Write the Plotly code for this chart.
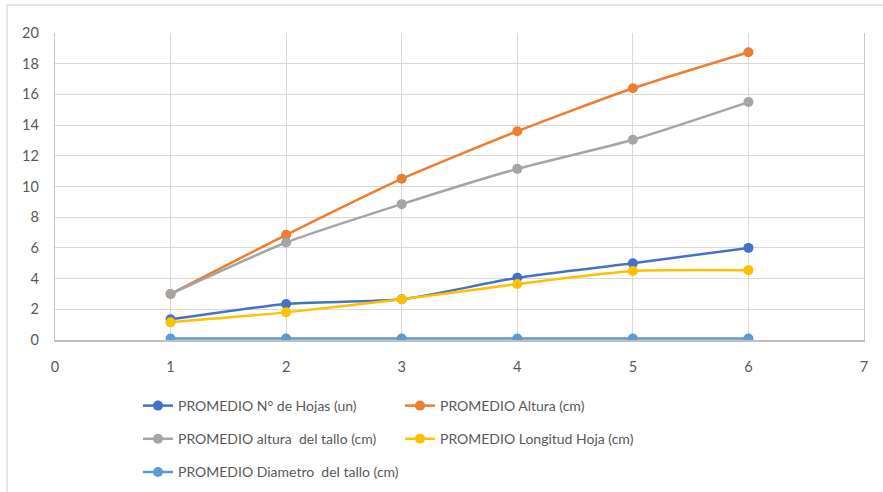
import plotly.graph_objects as go

# Weeks of measurement
semanas = [1, 2, 3, 4, 5, 6]

# Average values per week
hojas = [1.35, 2.35, 2.65, 4.05, 5.0, 6.0]
altura = [3.0, 6.85, 10.5, 13.6, 16.4, 18.75]
altura_tallo = [3.0, 6.35, 8.85, 11.15, 13.05, 15.5]
longitud_hoja = [1.15, 1.8, 2.65, 3.65, 4.5, 4.55]
diametro_tallo = [0.1, 0.1, 0.1, 0.1, 0.1, 0.1]

series = [
    ("PROMEDIO N° de Hojas (un)", hojas, "#4472C4", "legend"),
    ("PROMEDIO Altura (cm)", altura, "#ED7D31", "legend2"),
    ("PROMEDIO altura  del tallo (cm)", altura_tallo, "#A5A5A5", "legend"),
    ("PROMEDIO Longitud Hoja (cm)", longitud_hoja, "#FFC000", "legend2"),
    ("PROMEDIO Diametro  del tallo (cm)", diametro_tallo, "#5B9BD5", "legend"),
]

FONT = "Lato"
TXT = "#595959"
GRID = "#D9D9D9"

fig = go.Figure()
for i, (name, vals, color, leg) in enumerate(series):
    fig.add_trace(go.Scatter(
        x=semanas, y=vals, name=name, mode="lines+markers",
        line=dict(color=color, width=2.5, shape="spline", smoothing=0.6),
        marker=dict(color=color, size=10),
        legend=leg, legendgroup=f"g{i}",
    ))

W, H = 883, 492
ml, mr, mt, mb = 55, 19, 33, 152
pw, ph = W - ml - mr, H - mt - mb

def px_x(p):
    return (p - ml) / pw

def px_y(p):
    return 1 - (p - mt) / ph

leg_common = dict(
    orientation="v", xanchor="left", yanchor="top",
    font=dict(family=FONT, size=14, color=TXT),
    bgcolor="rgba(0,0,0,0)", traceorder="grouped", tracegroupgap=12,
    itemwidth=30,
)

fig.update_layout(
    width=W, height=H,
    margin=dict(l=ml, r=mr, t=mt, b=mb, autoexpand=False),
    paper_bgcolor="white", plot_bgcolor="white",
    font=dict(family=FONT, size=14, color=TXT),
    legend=dict(x=px_x(138), y=px_y(390), **leg_common),
    legend2=dict(x=px_x(400), y=px_y(390), **leg_common),
    xaxis=dict(
        range=[0, 7], tickvals=list(range(0, 8)), showgrid=True,
        gridcolor=GRID, gridwidth=1.3, zeroline=False,
        showline=True, linecolor="#BFBFBF", linewidth=1.5, mirror=False,
        ticks="", ticklabelstandoff=13,
        tickfont=dict(family=FONT, size=14.5, color=TXT),
    ),
    xaxis2=dict(overlaying="x", range=[0, 7], showline=True, linecolor=GRID,
                linewidth=1.3, side="top", showticklabels=False, showgrid=False,
                zeroline=False),
    yaxis=dict(
        range=[0, 20], tickvals=list(range(0, 21, 2)), showgrid=True,
        gridcolor=GRID, gridwidth=1.3, zeroline=False,
        showline=True, linecolor="#C8C8C8", linewidth=1.3, mirror=True,
        ticks="", ticklabelstandoff=12,
        tickfont=dict(family=FONT, size=14.5, color=TXT),
    ),
    shapes=[
        # chart area border (top and left edges)
        dict(type="line", xref="paper", yref="paper",
             x0=px_x(7), x1=px_x(883), y0=px_y(5), y1=px_y(5),
             line=dict(color="#D9D9D9", width=1.3), layer="below"),
        dict(type="line", xref="paper", yref="paper",
             x0=px_x(7), x1=px_x(7), y0=px_y(5), y1=px_y(492),
             line=dict(color="#D9D9D9", width=1.3), layer="below"),
    ],
)

fig.write_html("out.html")
